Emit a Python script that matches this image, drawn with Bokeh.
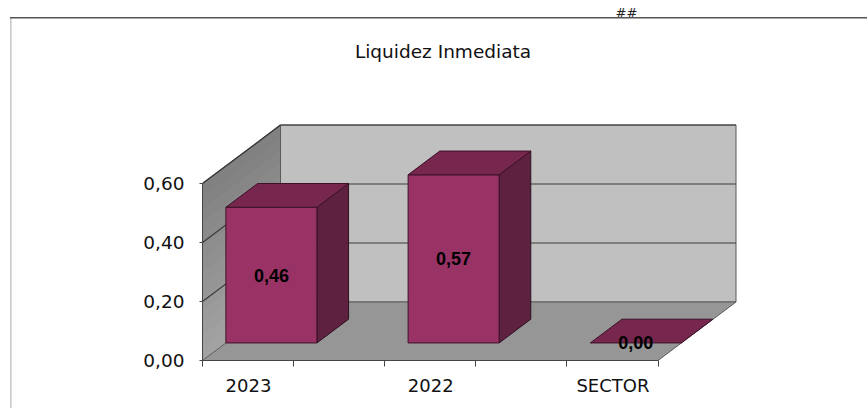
from bokeh.plotting import figure
from bokeh.embed import file_html
from bokeh.resources import INLINE
from bokeh.models import Range1d, LinearAxis, FixedTicker, Label
from bokeh.core.properties import value

# ---- data
categories = ["2023", "2022", "SECTOR"]
values = [0.46, 0.57, 0.0]
labels = ["0,46", "0,57", "0,00"]
y_ticks = [0.0, 0.2, 0.4, 0.6]
y_tick_labels = ["0,00", "0,20", "0,40", "0,60"]
title = "Liquidez Inmediata"

# ---- 3D oblique projection, in chart units (x: category slots, y: value)
W, H = 867, 408
SLOT_PX, UNIT_PX = 182.2, 295.0
DX, DY = 78.0 / SLOT_PX, 58.5 / UNIT_PX
BAR_W = 91.0 / SLOT_PX
N_SLOTS = 2.5
Y_MAX = 0.6
D0, D1 = 0.30, 0.706

def proj(x, v, d):
    return x + d * DX, v + d * DY

LEFT, BOTTOM_PX = 202, 360
p = figure(width=W, height=H, output_backend="svg", toolbar_location=None,
           x_range=Range1d(0, (W - LEFT) / SLOT_PX),
           y_range=Range1d(0, BOTTOM_PX / UNIT_PX),
           min_border_left=LEFT, min_border_right=0, min_border_top=0,
           min_border_bottom=H - BOTTOM_PX, x_axis_type=None, y_axis_type=None)
p.grid.visible = False
p.outline_line_color = None
p.background_fill_color = None
p.border_fill_color = None
# the sheet's frame lines lie outside the plot area, so they sit behind the canvas
p.styles = {
    "background": "linear-gradient(#555555,#555555) 10px 16.5px / 857px 1.5px no-repeat, "
                  "linear-gradient(#cccccc,#cccccc) 9.5px 18px / 1.7px 390px no-repeat",
}

EDGE = "#5a5a5a"

def poly(pts, fill, line=EDGE, w=1.0):
    p.patch([a for a, _ in pts], [b for _, b in pts], fill_color=fill,
            line_color=line, line_width=w)

def seg(a, b, color="#3a3a3a", w=1.2):
    p.line([a[0], b[0]], [a[1], b[1]], line_color=color, line_width=w)

# side wall, shaded from lighter at the bottom to dark at the top:
# each layer overpaints everything above its lower edge, so no seams show
bands = 14
for k in range(bands):
    v0 = Y_MAX * k / bands
    g = int(0xa4 - (0xa4 - 0x80) * (k + 0.5) / bands)
    col = "#%02x%02x%02x" % (g, g, g)
    p.patch(*zip(proj(0, v0, 0), proj(0, v0, 1), proj(0, Y_MAX, 1), proj(0, Y_MAX, 0)),
            fill_color=col, line_color=None)
p.line(*zip(proj(0, Y_MAX, 0), proj(0, Y_MAX, 1)), line_color=EDGE, line_width=1.2)

# back wall and floor
poly([proj(0, 0, 1), proj(N_SLOTS, 0, 1), proj(N_SLOTS, Y_MAX, 1), proj(0, Y_MAX, 1)], "#c0c0c0")
poly([proj(0, 0, 0), proj(N_SLOTS, 0, 0), proj(N_SLOTS, 0, 1), proj(0, 0, 1)], "#969696")

# gridlines
for t in y_ticks[1:]:
    seg(proj(0, t, 0), proj(0, t, 1))
    seg(proj(0, t, 1), proj(N_SLOTS, t, 1))

# bars
for i, v in enumerate(values):
    x0 = float(i)
    x1 = x0 + BAR_W
    if v > 0:
        poly([proj(x1, 0, D0), proj(x1, 0, D1), proj(x1, v, D1), proj(x1, v, D0)], "#5e213f", "#2c0f20")
        poly([proj(x0, 0, D0), proj(x1, 0, D0), proj(x1, v, D0), proj(x0, v, D0)], "#993366", "#3c1229")
    poly([proj(x0, v, D0), proj(x1, v, D0), proj(x1, v, D1), proj(x0, v, D1)], "#77264e", "#3c1229")

# axes
yax = LinearAxis(ticker=FixedTicker(ticks=y_ticks),
                 major_label_overrides={t: s for t, s in zip(y_ticks, y_tick_labels)},
                 major_label_text_font="DejaVu Sans", major_label_text_font_size="18.5px",
                 major_label_text_color="#111111", axis_line_color="#444444",
                 major_tick_line_color="#444444", major_tick_out=3, major_tick_in=0,
                 minor_tick_line_color=None, major_label_standoff=15, bounds=(0, Y_MAX))
p.add_layout(yax, "left")
label_pos = [i + 0.2525 for i in range(3)]
xax = LinearAxis(ticker=FixedTicker(ticks=label_pos, minor_ticks=[i * 0.5 for i in range(6)]),
                 major_label_overrides={x: c for x, c in zip(label_pos, categories)},
                 major_label_text_font="DejaVu Sans", major_label_text_font_size="18px",
                 major_label_text_color="#111111", axis_line_color="#444444",
                 major_tick_line_color=None, major_tick_out=0, major_tick_in=0,
                 minor_tick_line_color="#444444", minor_tick_out=6, minor_tick_in=0,
                 major_label_standoff=8, bounds=(0, N_SLOTS))
p.add_layout(xax, "below")

# data labels, centred on the front face of each bar
for i, (v, s) in enumerate(zip(values, labels)):
    cx, cy = proj(i + BAR_W / 2, v / 2, D0)
    p.text([cx], [cy], text=[s], text_font=value("Liberation Sans"), text_font_size="18px",
           text_font_style="bold", text_color="#000000", text_align="center", text_baseline="middle")

# title and marker (screen units are relative to the frame: left edge, bottom edge)
p.add_layout(Label(x=442.5 - LEFT, y=BOTTOM_PX - 50.5, x_units="screen", y_units="screen", text=title,
                   text_font="DejaVu Sans", text_font_size="18.5px", text_color="#111111",
                   text_align="center", text_baseline="middle"))
p.add_layout(Label(x=626 - LEFT, y=BOTTOM_PX - 12, x_units="screen", y_units="screen", text="##",
                   text_font="DejaVu Sans", text_font_size="13px", text_font_style="italic",
                   text_color="#222222", text_align="center", text_baseline="middle"))

open("out.html", "w").write(file_html(p, INLINE))
